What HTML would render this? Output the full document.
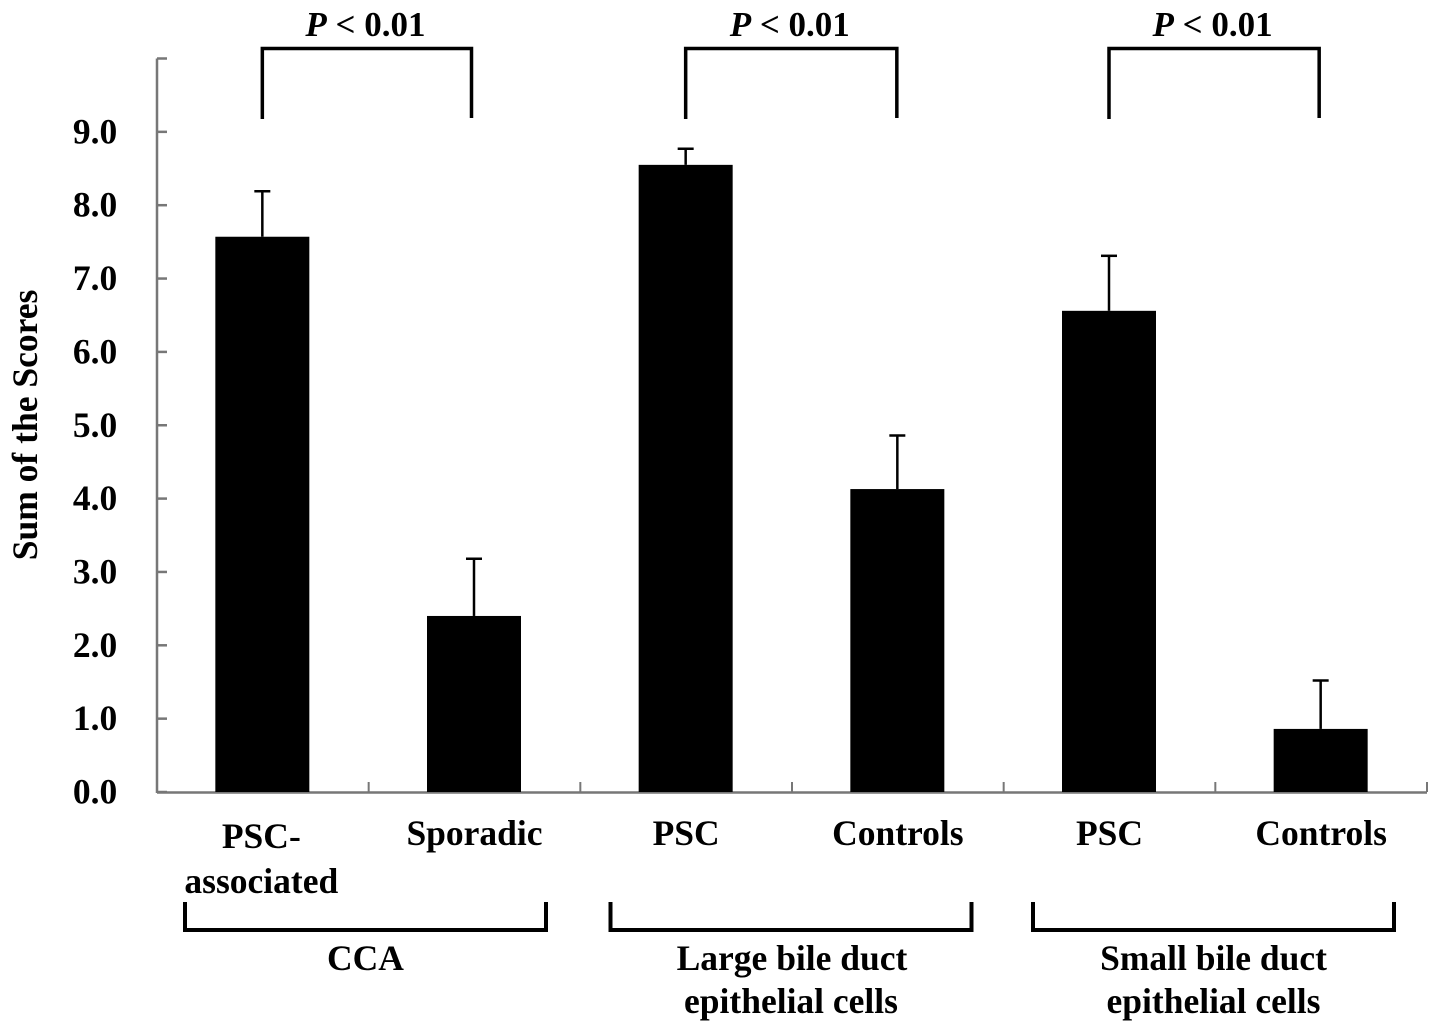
<!DOCTYPE html>
<html>
<head>
<meta charset="utf-8">
<style>
html,body{margin:0;padding:0;background:#fff;}
svg{display:block;}
text{font-family:"Liberation Serif",serif;font-weight:bold;fill:#000;}
</style>
</head>
<body>
<svg id="chart" width="1441" height="1033" viewBox="0 0 1441 1033" xmlns="http://www.w3.org/2000/svg"></svg>
<script>
const categories = ['PSC-associated','Sporadic','PSC (large)','Controls (large)','PSC (small)','Controls (small)'];
const categoryLines = [['PSC-','associated'],['Sporadic'],['PSC'],['Controls'],['PSC'],['Controls']];
const meanValues = [7.57,2.40,8.55,4.13,6.56,0.86];
const errorTops = [8.19,3.18,8.77,4.86,7.31,1.52];
const tickLabels = ['0.0','1.0','2.0','3.0','4.0','5.0','6.0','7.0','8.0','9.0'];
const tickValues = [0,1,2,3,4,5,6,7,8,9,10];
const groupLabels = [['CCA'],['Large bile duct','epithelial cells'],['Small bile duct','epithelial cells']];
const pLabels = ['< 0.01','< 0.01','< 0.01'];

const svg = document.getElementById('chart');
const NS = 'http://www.w3.org/2000/svg';
const plotLeft = 157, plotRight = 1427, plotBase = 792, unit = 73.35;
const band = (plotRight - plotLeft) / categories.length;
const yScale = v => plotBase - v * unit;
const xScale = i => plotLeft + band * (i + 0.5) - 0.5;

function mk(tag, attrs, parent) {
  const el = document.createElementNS(NS, tag);
  for (const k in attrs) el.setAttribute(k, attrs[k]);
  (parent || svg).appendChild(el);
  return el;
}
function txt(x, y, s, size, parent) {
  const t = mk('text', {x: x, y: y, 'font-size': size, 'text-anchor': 'middle'}, parent);
  t.textContent = s;
  return t;
}

// y axis
const yLine = mk('line', {x1: plotLeft, y1: yScale(10), x2: plotLeft, y2: plotBase + 1, stroke: '#777', 'stroke-width': 2.5});


tickValues.forEach(v => {
  const t = mk('line', {x1: plotLeft, y1: yScale(v), x2: plotLeft + 10, y2: yScale(v), stroke: '#777', 'stroke-width': 2.5});
  
  
});
tickLabels.forEach((s, i) => {
  const t = txt(95, yScale(i) + 11.5, s, 35.5);
  
  
});

// x axis
const xLine = mk('line', {x1: plotLeft, y1: plotBase + 0.5, x2: plotRight, y2: plotBase + 0.5, stroke: '#777', 'stroke-width': 2.5});


for (let i = 1; i <= categories.length; i++) {
  const px = plotLeft + band * i;
  const t = mk('line', {x1: px, y1: plotBase - 10, x2: px, y2: plotBase, stroke: '#777', 'stroke-width': 2});
  
  
}

// y title
const yTitle = mk('text', {transform: 'translate(37,425) rotate(-90)', 'font-size': 35.5, 'text-anchor': 'middle'});
yTitle.textContent = 'Sum of the Scores';



// bars and error bars
categories.forEach((c, i) => {
  const cx = xScale(i);
  const stem = mk('line', {x1: cx, y1: yScale(errorTops[i]), x2: cx, y2: yScale(meanValues[i]), stroke: '#000', 'stroke-width': 2.5});
  
  
  const cap = mk('line', {x1: cx - 8, y1: yScale(errorTops[i]), x2: cx + 8, y2: yScale(errorTops[i]), stroke: '#000', 'stroke-width': 2.5});
  
  
  const bar = mk('rect', {x: cx - 47, y: yScale(meanValues[i]), width: 94, height: plotBase - yScale(meanValues[i]), fill: '#000'});
  
  
  categoryLines[i].forEach((ln, j) => {
    const offs = categoryLines[i].length > 1 ? 3 : 0;
    const t = txt(cx - (categoryLines[i].length > 1 ? 1 : -0.5), 845 + offs + j * 45, ln, 35.5);
    
    
  });
});

// significance brackets
[0, 1, 2].forEach(g => {
  const xa = xScale(g * 2), xb = xScale(g * 2 + 1) - [2.5, 0.5, 1.5][g];
  const p = mk('path', {d: `M${xa} 119V48.5H${xb}V118`, fill: 'none', stroke: '#000', 'stroke-width': 3.5});
  
  
  const t = mk('text', {x: (xa + xb) / 2 - 1.5, y: 36, 'font-size': 35, 'text-anchor': 'middle'});
  
  
  const ital = mk('tspan', {'font-style': 'italic'}, t);
  ital.textContent = 'P';
  const rest = mk('tspan', {}, t);
  rest.textContent = ' ' + pLabels[g];
});

// group brackets
[185, 610.5, 1033].forEach((x0, g) => {
  const x1 = x0 + 361;
  const p = mk('path', {d: `M${x0} 902V930H${x1}V902`, fill: 'none', stroke: '#000', 'stroke-width': 4});
  
  
  groupLabels[g].forEach((ln, j) => {
    const t = txt(x0 + 180.5 + (g === 1 && j === 0 ? 1 : 0), 970 + j * 43, ln, 35.5);
    
    
  });
});
</script>
</body>
</html>
